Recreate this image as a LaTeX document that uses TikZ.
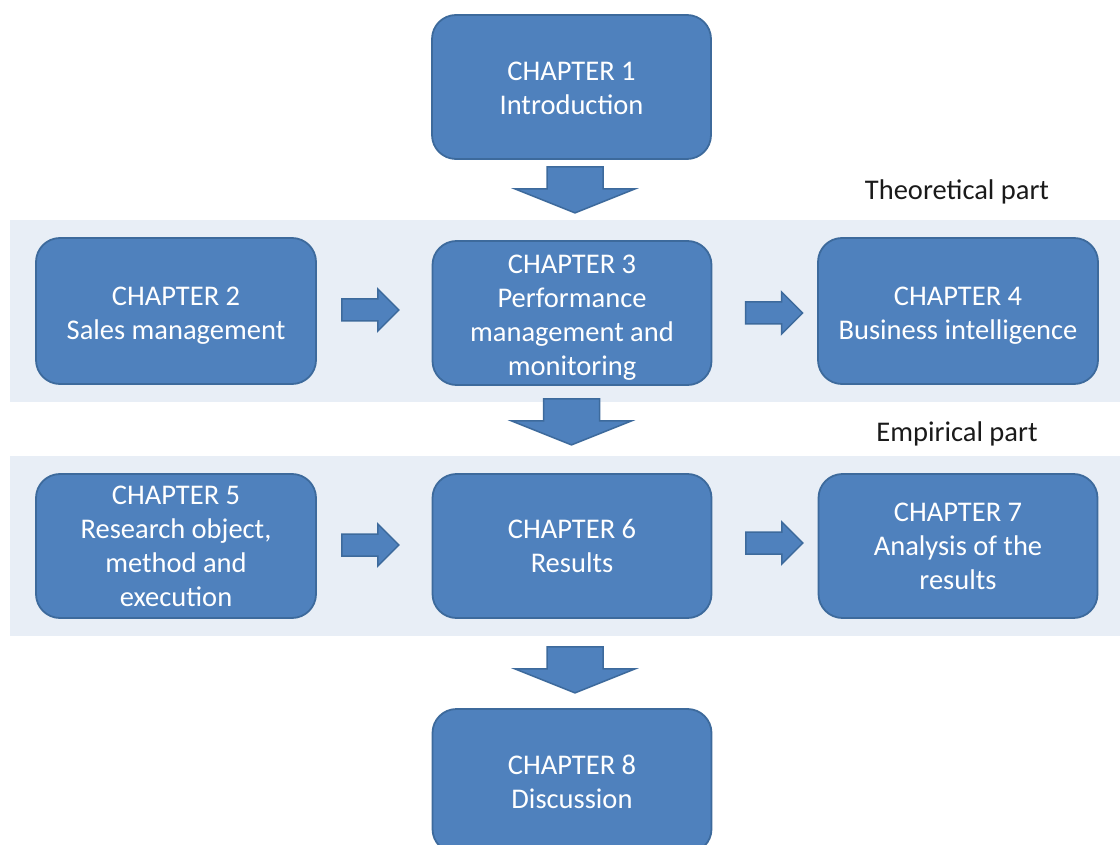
\documentclass[tikz,border=0pt]{standalone}
\usepackage{fontspec}
\setmainfont{Carlito}
\usetikzlibrary{calc}
\definecolor{boxfill}{HTML}{4F81BD}
\definecolor{boxline}{HTML}{3D6A9C}
\definecolor{bandfill}{HTML}{E8EEF6}
\definecolor{labeltext}{HTML}{1A1A1A}
% a taller first line pushes the text block a little lower in its box
\newcommand\padtop[1]{\rule{0pt}{#1}}
\tikzset{
  chapter/.style={draw=boxline, line width=1.8pt, fill=boxfill,
    rounded corners=24pt, minimum width=279pt, minimum height=144pt,
    text=white, align=center, inner sep=0pt,
    font=\fontsize{28.5}{34}\selectfont},
  band/.style={fill=bandfill, draw=none},
  blockarrow/.style={draw=boxline, line width=1.5pt, fill=boxfill, line join=miter},
  partlabel/.style={text=labeltext, font=\fontsize{28.5}{34}\selectfont, inner sep=0pt},
  pics/downarrow/.style={code={
    \draw[blockarrow] (-28,0) -- (28,0) -- (28,22) -- (60,22) -- (0,46)
      -- (-60,22) -- (-28,22) -- cycle;}},
  pics/rightarrow/.style={code={
    \draw[blockarrow] (0,-11) -- (36,-11) -- (36,-21) -- (57,0) -- (36,21)
      -- (36,11) -- (0,11) -- cycle;}}
}
\begin{document}
\begin{tikzpicture}[x=1pt,y=-1pt]
  \useasboundingbox (0,0) rectangle (1120,845);
  \clip (0,0) rectangle (1120,845);

  % background bands of the two parts
  \fill[band] (10,220) rectangle (1120,402);
  \fill[band] (10,456) rectangle (1120,636);
  \node[partlabel] (theory) at (957,192) {Theoretical part};
  \node[partlabel] (empiric) at (957,434) {Empirical part};

  % chapters
  \node[chapter] (c1) at (571.5,87) {\padtop{22pt}CHAPTER 1\\Introduction};
  \node[chapter, minimum width=280pt, minimum height=146pt] (c2) at (176,311) {\padtop{28.5pt}CHAPTER 2\\Sales management};
  \node[chapter] (c3) at (572,313) {\padtop{27.5pt}CHAPTER 3\\Performance\\management and\\monitoring};
  \node[chapter, minimum width=280pt, minimum height=146pt] (c4) at (958,311) {\padtop{28.5pt}CHAPTER 4\\Business intelligence};
  \node[chapter, minimum width=280pt] (c5) at (176,546) {CHAPTER 5\\Research object,\\method and\\execution};
  \node[chapter] (c6) at (572,546) {CHAPTER 6\\Results};
  \node[chapter] (c7) at (958,546) {CHAPTER 7\\Analysis of the\\results};
  \node[chapter] (c8) at (572,781) {\padtop{22pt}CHAPTER 8\\Discussion};

  % block arrows between chapters
  \pic at ($(c1.south)+(3.5,7)$) {downarrow};
  \pic at ($(c3.south)+(-0.5,13)$) {downarrow};
  \pic at ($(c6.south)+(3,28)$) {downarrow};
  \pic at ($(c2.east)+(25,-1)$) {rightarrow};
  \pic at ($(c3.west)+(314,0)$) {rightarrow};
  \pic at ($(c5.east)+(25,-1)$) {rightarrow};
  \pic at ($(c6.east)+(33.5,-3)$) {rightarrow};
\end{tikzpicture}
\end{document}
